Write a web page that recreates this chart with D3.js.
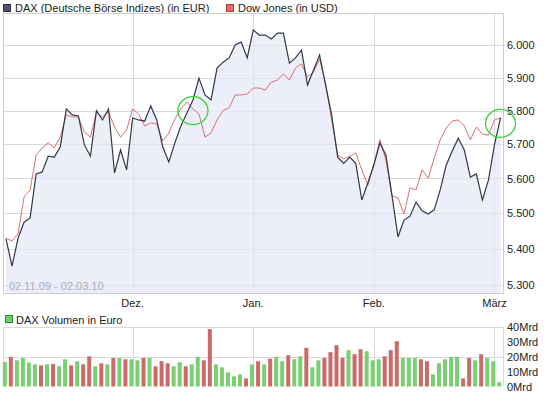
<!DOCTYPE html>
<html>
<head>
<meta charset="utf-8">
<script src="https://cdn.jsdelivr.net/npm/d3@7"></script>
<style>
  body { margin: 0; background: #fff; }
  svg { display: block; font-family: "Liberation Sans", Arial, sans-serif; font-size: 11px; }
</style>
</head>
<body>
<div id="chart"></div>
<script>
// DAX close (EUR), 02.11.09 - 02.03.10, one value per trading day
const daxValues = [5428, 5352, 5430, 5475, 5487, 5613, 5619, 5665, 5662, 5692,
  5805, 5787, 5784, 5698, 5665, 5800, 5772, 5805, 5616, 5683,
  5625, 5778, 5772, 5769, 5814, 5772, 5692, 5648, 5704, 5754,
  5793, 5832, 5898, 5847, 5832, 5929, 5947, 5960, 6000, 6009,
  5960, 6047, 6031, 6031, 6019, 6037, 6037, 5944, 5960, 5984,
  5877, 5923, 5969, 5877, 5787, 5662, 5644, 5662, 5644, 5538,
  5587, 5639, 5704, 5668, 5552, 5433, 5481, 5492, 5532, 5507,
  5498, 5510, 5567, 5639, 5680, 5718, 5683, 5604, 5613, 5538,
  5595, 5698, 5778];

// Dow Jones, rebased onto the DAX scale
const dowValues = [5430, 5422, 5442, 5547, 5567, 5668, 5689, 5704, 5689, 5721,
  5787, 5781, 5781, 5736, 5721, 5796, 5781, 5796, 5751, 5721,
  5742, 5805, 5790, 5754, 5763, 5760, 5710, 5733, 5775, 5805,
  5826, 5805, 5790, 5721, 5733, 5772, 5800, 5808, 5847, 5847,
  5850, 5868, 5868, 5862, 5886, 5892, 5911, 5892, 5929, 5941,
  5902, 5917, 5957, 5880, 5772, 5668, 5657, 5665, 5674, 5625,
  5581, 5642, 5713, 5654, 5550, 5544, 5498, 5573, 5567, 5625,
  5601, 5659, 5713, 5748, 5769, 5772, 5754, 5713, 5751, 5730,
  5727, 5772, 5778];

// DAX volume in Mrd EUR
const volumeValues = [16.5, 19.9, 17.6, 19.2, 16.1, 14.9, 14.2, 14.9, 15.1, 13.6,
  18.3, 14.2, 17.0, 14.9, 20.3, 13.6, 15.6, 14.9, 19.2, 19.2,
  18.3, 18.3, 17.6, 19.2, 19.2, 13.6, 17.0, 15.6, 13.6, 16.3,
  13.6, 14.9, 19.9, 17.6, 38.6, 14.9, 12.9, 9.5, 6.8, 8.1,
  5.4, 14.9, 17.0, 14.9, 18.7, 19.9, 17.0, 21.0, 18.3, 20.3,
  26.0, 12.9, 17.6, 19.2, 23.1, 27.8, 19.2, 24.4, 21.7, 25.1,
  23.7, 17.6, 18.3, 20.3, 24.4, 30.5, 19.2, 19.2, 19.2, 18.3,
  17.0, 8.1, 15.6, 18.3, 19.9, 19.9, 5.4, 19.2, 17.6, 21.7,
  19.2, 17.0, 2.9];

// 1 = green bar, 0 = red bar
const volumeUp = [1, 0, 1, 1, 1, 1, 0, 1, 0, 1,
  1, 0, 1, 0, 0, 1, 0, 1, 0, 1,
  0, 1, 1, 0, 1, 0, 0, 0, 1, 1,
  0, 1, 1, 0, 0, 1, 1, 1, 1, 1,
  0, 1, 0, 1, 0, 1, 1, 0, 1, 1,
  0, 1, 1, 0, 0, 0, 0, 1, 0, 0,
  1, 1, 1, 0, 0, 0, 1, 1, 1, 0,
  0, 1, 1, 1, 1, 1, 0, 0, 1, 0,
  1, 1, 1];

const monthIndex = [21, 41, 61, 81];
const monthLabels = ["Dez.", "Jan.", "Feb.", "März"];
const priceTicks = [5300, 5400, 5500, 5600, 5700, 5800, 5900, 6000];
const volumeTicks = [0, 10, 20, 30, 40];
const volumeGrid = [20, 40];
// green hand-drawn marks: [trading day index, price]
const marks = [[31, 5800], [82, 5762]];

const W = 545, H = 395;
const plot = { left: 3.5, right: 503.5, top: 13.5, bottom: 293.5 };
const vol = { top: 326.5, bottom: 386.5 };

const de = d3.formatLocale({ decimal: ",", thousands: ".", grouping: [3], currency: ["", " €"] });
const fmt = de.format(",");

const svg = d3.select("#chart").append("svg")
  .attr("width", W).attr("height", H);

const x = d3.scaleLinear().domain([0, daxValues.length - 1]).range([6, 500.5]);
const y = d3.scaleLog().domain([5300, 6000]).range([285, 45]);
const yv = d3.scaleLinear().domain([0, 40]).range([vol.bottom, 327]);

const gridColor = "#d9d9dc";

// ---- legend top
svg.append("rect").attr("x", 3.5).attr("y", 4.5).attr("width", 7).attr("height", 7)
  .attr("fill", "#4d5170").attr("stroke", "#2c2f45");
svg.append("text").attr("x", 15).attr("y", 12).attr("fill", "#222")
  .text("DAX (Deutsche Börse Indizes) (in EUR)");
svg.append("rect").attr("x", 226.5).attr("y", 4.5).attr("width", 7).attr("height", 7)
  .attr("fill", "#e46a6a").attr("stroke", "#b04040");
svg.append("text").attr("x", 238).attr("y", 12).attr("fill", "#222")
  .text("Dow Jones (in USD)");

// ---- main panel
const main = svg.append("g");

main.append("g")
  .selectAll("line").data(priceTicks).enter().append("line")
  .attr("x1", plot.left).attr("x2", plot.right)
  .attr("y1", d => Math.round(y(d)) + 0.5).attr("y2", d => Math.round(y(d)) + 0.5)
  .attr("stroke", gridColor);

main.append("g")
  .selectAll("line").data(monthIndex).enter().append("line")
  .attr("x1", d => Math.round(x(d)) + 0.5).attr("x2", d => Math.round(x(d)) + 0.5)
  .attr("y1", plot.top).attr("y2", plot.bottom)
  .attr("stroke", gridColor);

const area = d3.area()
  .x((d, i) => x(i))
  .y0(plot.bottom)
  .y1(d => y(d));

main.append("path")
  .datum(daxValues)
  .attr("d", area)
  .attr("fill", "#e4e8f6")
  .attr("fill-opacity", 0.7);

const line = d3.line().x((d, i) => x(i)).y(d => y(d));

main.append("path")
  .datum(dowValues)
  .attr("d", line)
  .attr("fill", "none")
  .attr("stroke", "#d9706f")
  .attr("stroke-width", 1);

main.append("path")
  .datum(daxValues)
  .attr("d", line)
  .attr("fill", "none")
  .attr("stroke", "#33364a")
  .attr("stroke-width", 1.2);

main.append("rect")
  .attr("x", plot.left).attr("y", plot.top)
  .attr("width", plot.right - plot.left).attr("height", plot.bottom - plot.top)
  .attr("fill", "none").attr("stroke", "#cfcfd3");

// right axis labels
const yAxis = d3.axisRight(y).tickValues(priceTicks).tickSize(0).tickPadding(0)
  .tickFormat(d => fmt(d));
main.append("g")
  .attr("transform", "translate(507,0)")
  .call(yAxis)
  .call(g => g.select(".domain").remove())
  .selectAll("text")
  .attr("font-size", 11).attr("font-family", "Liberation Sans, Arial, sans-serif")
  .attr("fill", "#222");

// month labels
main.append("g")
  .selectAll("text").data(monthIndex).enter().append("text")
  .attr("x", d => x(d))
  .attr("y", 307)
  .attr("text-anchor", "middle")
  .attr("fill", "#222")
  .text((d, i) => monthLabels[i]);

main.append("text")
  .attr("x", 9).attr("y", 290)
  .attr("fill", "#a9adbb")
  .text("02.11.09 - 02.03.10");

// annotation circles
main.append("g")
  .selectAll("ellipse").data(marks).enter().append("ellipse")
  .attr("cx", d => x(d[0]))
  .attr("cy", d => y(d[1]))
  .attr("rx", 15).attr("ry", 14)
  .attr("fill", "none")
  .attr("stroke", "#33d433")
  .attr("stroke-width", 1.3);

// ---- volume panel
svg.append("rect").attr("x", 5.5).attr("y", 315.5).attr("width", 7).attr("height", 7)
  .attr("fill", "#6fd06a").attr("stroke", "#2f8a2f");
svg.append("text").attr("x", 16).attr("y", 324).attr("fill", "#222")
  .text("DAX Volumen in Euro");

const vg = svg.append("g");

vg.append("g")
  .selectAll("line").data(volumeGrid).enter().append("line")
  .attr("x1", plot.left).attr("x2", plot.right)
  .attr("y1", d => Math.round(yv(d)) + 0.5).attr("y2", d => Math.round(yv(d)) + 0.5)
  .attr("stroke", gridColor);

vg.append("g")
  .selectAll("line").data(monthIndex).enter().append("line")
  .attr("x1", d => Math.round(x(d)) + 0.5).attr("x2", d => Math.round(x(d)) + 0.5)
  .attr("y1", vol.top).attr("y2", vol.bottom)
  .attr("stroke", gridColor);

vg.append("line")
  .attr("x1", plot.left).attr("x2", plot.left)
  .attr("y1", vol.top).attr("y2", vol.bottom)
  .attr("stroke", gridColor);
vg.append("line")
  .attr("x1", plot.right).attr("x2", plot.right)
  .attr("y1", vol.top).attr("y2", vol.bottom)
  .attr("stroke", gridColor);

vg.selectAll(".bar")
  .data(volumeValues)
  .enter()
  .append("rect")
  .attr("class", "bar")
  .attr("x", (d, i) => x(i) - 3.2)
  .attr("y", d => yv(d))
  .attr("width", 4)
  .attr("height", d => vol.bottom - yv(d))
  .attr("fill", (d, i) => volumeUp[i] ? "#78d070" : "#cc6a6a");

const vAxis = d3.axisRight(yv).tickValues(volumeTicks).tickSize(0).tickPadding(0)
  .tickFormat(d => d + "Mrd");
vg.append("g")
  .attr("transform", "translate(507,0)")
  .call(vAxis)
  .call(g => g.select(".domain").remove())
  .selectAll("text")
  .attr("font-size", 11).attr("font-family", "Liberation Sans, Arial, sans-serif")
  .attr("fill", "#222");
</script>
</body>
</html>
